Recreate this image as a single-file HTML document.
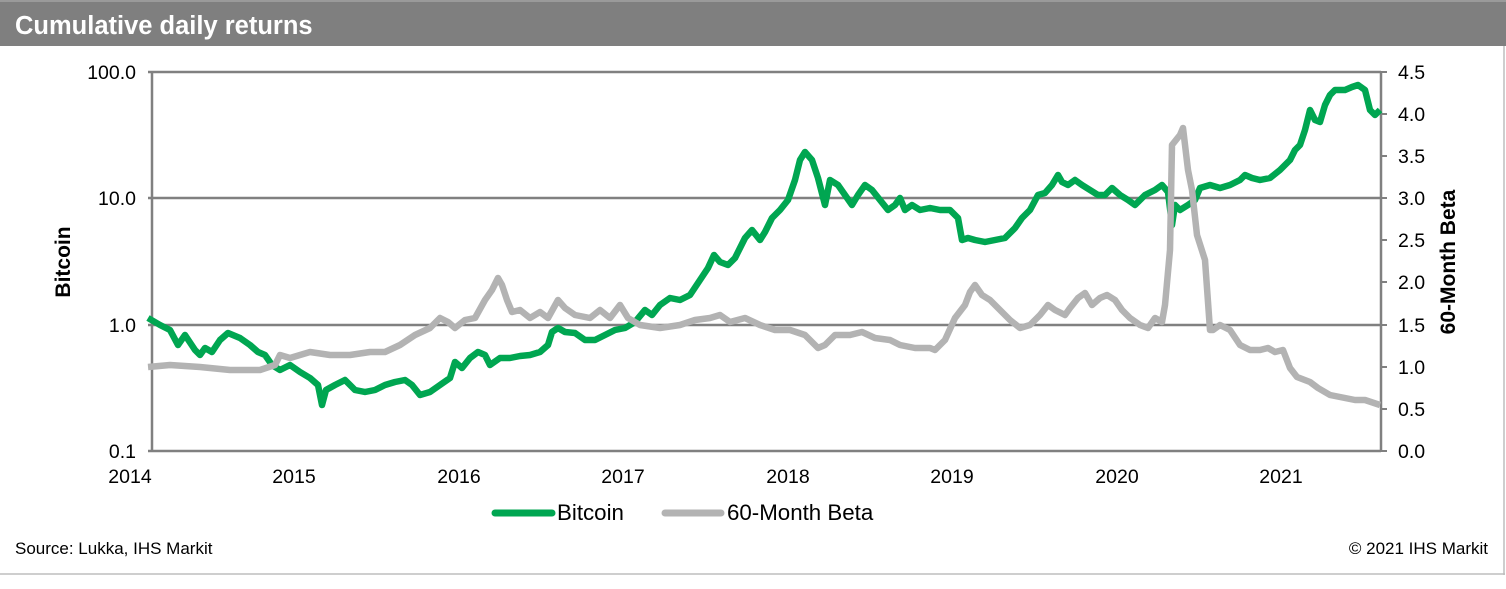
<!DOCTYPE html>
<html><head><meta charset="utf-8"><style>
html,body{margin:0;padding:0;background:#fff;}
body{width:1506px;height:584px;overflow:hidden;font-family:"Liberation Sans",Arial,sans-serif;}
</style></head><body>
<svg width="1506" height="584" viewBox="0 0 1506 584" xmlns="http://www.w3.org/2000/svg" font-family="Liberation Sans, Arial, sans-serif">
<rect x="0" y="0" width="1506" height="584" fill="#fff"/>
<rect x="0" y="0" width="1506" height="46" fill="#7f7f7f"/>
<rect x="0" y="0" width="1506" height="2" fill="#9a9a9a"/>
<text x="15" y="34" fill="#fff" font-size="25.5" font-weight="bold">Cumulative daily returns</text>
<line x1="1504" y1="46" x2="1504" y2="575" stroke="#bdbdbd" stroke-width="1.5"/>
<line x1="0" y1="574" x2="1505" y2="574" stroke="#bdbdbd" stroke-width="1.5"/>
<g stroke="#808080" stroke-width="2.5">
<line x1="148" y1="72" x2="1381" y2="72"/>
<line x1="148" y1="198" x2="1381" y2="198"/>
<line x1="148" y1="325" x2="1381" y2="325"/>
<line x1="148" y1="451" x2="1381" y2="451"/>
<line x1="152" y1="72" x2="152" y2="451"/>
<line x1="1381" y1="72" x2="1381" y2="451"/>
</g>
<g stroke="#808080" stroke-width="2">
<line x1="1381" y1="72" x2="1387" y2="72"/><line x1="1381" y1="114" x2="1387" y2="114"/><line x1="1381" y1="156" x2="1387" y2="156"/><line x1="1381" y1="198" x2="1387" y2="198"/><line x1="1381" y1="240" x2="1387" y2="240"/><line x1="1381" y1="282" x2="1387" y2="282"/><line x1="1381" y1="325" x2="1387" y2="325"/><line x1="1381" y1="367" x2="1387" y2="367"/><line x1="1381" y1="409" x2="1387" y2="409"/><line x1="1381" y1="451" x2="1387" y2="451"/>
</g>
<g font-size="19.5" fill="#000" text-anchor="end">
<text x="136" y="79">100.0</text><text x="136" y="205">10.0</text><text x="136" y="332">1.0</text><text x="136" y="458">0.1</text>
</g>
<g font-size="19.5" fill="#000">
<text x="1398" y="79">4.5</text><text x="1398" y="121">4.0</text><text x="1398" y="163">3.5</text><text x="1398" y="205">3.0</text><text x="1398" y="247">2.5</text><text x="1398" y="289">2.0</text><text x="1398" y="332">1.5</text><text x="1398" y="374">1.0</text><text x="1398" y="416">0.5</text><text x="1398" y="458">0.0</text>
</g>
<g font-size="19.5" fill="#000" text-anchor="middle">
<text x="130" y="483">2014</text><text x="294" y="483">2015</text><text x="459" y="483">2016</text><text x="623" y="483">2017</text><text x="788" y="483">2018</text><text x="952" y="483">2019</text><text x="1117" y="483">2020</text><text x="1281" y="483">2021</text>
</g>
<text transform="translate(70,262) rotate(-90)" font-size="21" font-weight="bold" text-anchor="middle">Bitcoin</text>
<text transform="translate(1455,262) rotate(-90)" font-size="21" font-weight="bold" text-anchor="middle">60-Month Beta</text>
<polyline fill="none" stroke="#00a651" stroke-width="6.5" stroke-linejoin="round" points="148,318 160,325 170,330 178,345 185,335 195,350 200,355 205,348 212,352 220,340 228,333 240,338 250,345 258,352 265,355 272,365 280,370 290,365 300,372 310,378 318,385 322,405 326,390 335,385 345,380 355,390 365,392 375,390 385,385 395,382 405,380 412,385 420,395 430,392 440,385 450,378 455,362 462,368 470,358 478,352 485,355 490,365 500,358 510,358 520,356 530,355 540,352 548,345 552,332 558,328 565,332 575,333 585,340 595,340 605,335 615,330 625,328 635,322 645,310 652,315 660,305 670,298 680,300 690,295 700,280 708,268 714,255 720,262 728,265 735,258 740,248 745,238 752,230 760,240 765,232 772,218 780,210 788,200 795,180 800,160 805,152 812,160 818,178 825,205 830,180 838,185 845,195 852,205 858,195 865,185 872,190 880,200 888,210 895,205 900,198 905,210 912,205 920,210 930,208 940,210 950,210 958,218 962,240 968,238 975,240 985,242 995,240 1005,238 1015,228 1022,218 1030,210 1038,195 1045,193 1052,185 1058,175 1062,182 1068,185 1075,180 1082,185 1090,190 1098,195 1105,195 1112,188 1120,195 1128,200 1135,205 1145,195 1155,190 1162,185 1168,192 1172,225 1175,205 1180,210 1188,205 1195,200 1200,188 1210,185 1220,188 1230,185 1240,180 1245,175 1252,178 1260,180 1270,178 1280,170 1290,160 1295,150 1300,145 1305,130 1310,110 1315,120 1320,122 1325,105 1330,95 1335,90 1345,90 1352,87 1358,85 1365,90 1370,110 1375,115 1380,110"/>
<polyline fill="none" stroke="#b3b3b3" stroke-width="6.5" stroke-linejoin="round" points="148,367 170,365 200,367 230,370 260,370 275,365 280,355 290,358 300,355 310,352 330,355 350,355 370,352 385,352 400,345 415,335 430,328 440,318 448,322 455,328 465,320 475,318 485,300 492,290 498,278 502,285 507,300 512,312 520,310 530,318 540,312 548,318 558,300 565,308 575,315 590,318 600,310 610,318 620,305 628,318 640,325 660,328 680,325 695,320 710,318 720,315 730,322 745,318 760,325 775,330 790,330 805,335 818,348 825,345 835,335 850,335 862,332 875,338 890,340 900,345 915,348 930,348 935,350 945,340 955,318 965,305 970,292 975,285 982,295 990,300 1000,310 1010,320 1020,328 1030,325 1040,315 1048,305 1055,310 1065,315 1070,308 1078,298 1085,293 1092,305 1100,298 1107,295 1115,300 1122,310 1130,318 1140,325 1148,328 1155,318 1162,322 1165,305 1170,250 1172,145 1176,140 1180,135 1183,128 1188,170 1192,190 1197,235 1205,260 1210,330 1213,330 1220,325 1230,330 1240,345 1250,350 1260,350 1268,348 1275,352 1283,350 1290,368 1297,377 1310,382 1318,388 1330,395 1345,398 1355,400 1365,400 1380,405"/>
<line x1="495" y1="513" x2="552" y2="513" stroke="#00a651" stroke-width="7" stroke-linecap="round"/>
<text x="557" y="520" font-size="22.3">Bitcoin</text>
<line x1="665" y1="513" x2="721" y2="513" stroke="#b3b3b3" stroke-width="7" stroke-linecap="round"/>
<text x="727" y="520" font-size="22.3">60-Month Beta</text>
<text x="15" y="554" font-size="17">Source: Lukka, IHS Markit</text>
<text x="1488" y="554" font-size="17" text-anchor="end">© 2021 IHS Markit</text>
</svg>
</body></html>
